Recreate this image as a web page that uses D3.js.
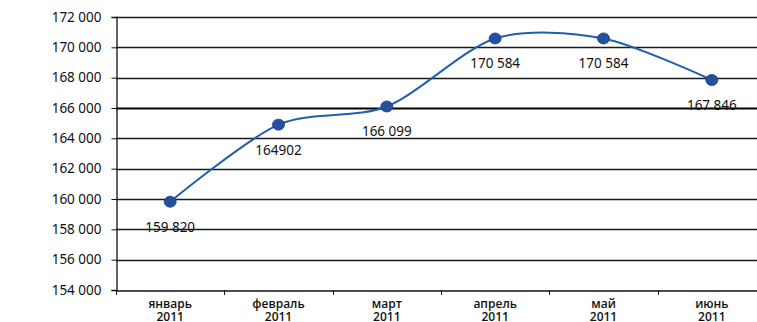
<!DOCTYPE html>
<html>
<head>
<meta charset="utf-8">
<script src="https://cdn.jsdelivr.net/npm/d3@7"></script>
<style>
  body { margin: 0; background: #fff; }
  svg { display: block; font-family: "Open Sans", "Noto Sans", sans-serif; }
</style>
</head>
<body>
<div id="chart"></div>
<script>
const months = ["январь", "февраль", "март", "апрель", "май", "июнь"];
const years = ["2011", "2011", "2011", "2011", "2011", "2011"];
const values = [159820, 164902, 166099, 170584, 170584, 167846];
const valueLabels = ["159 820", "164902", "166 099", "170 584", "170 584", "167 846"];
const yTicks = [154000, 156000, 158000, 160000, 162000, 164000, 166000, 168000, 170000, 172000];

const width = 757, height = 322;
const margin = { top: 17, right: -9, bottom: 32, left: 116 };

const svg = d3.select("#chart").append("svg")
  .attr("width", width)
  .attr("height", height);

const x = d3.scaleBand()
  .domain(months)
  .range([margin.left, width - margin.right]);

const y = d3.scaleLinear()
  .domain([154000, 172000])
  .range([height - margin.bottom, margin.top]);

const fmt = d => d3.format(",")(d).replace(/,/g, " ");

// grid lines
svg.append("g")
  .selectAll("line")
  .data(yTicks.slice(1))
  .join("line")
  .attr("x1", margin.left)
  .attr("x2", width)
  .attr("y1", d => Math.round(y(d)) + 0.5)
  .attr("y2", d => Math.round(y(d)) + 0.5)
  .attr("stroke", d => d === 166000 ? "#000" : "#1a1a1a")
  .attr("stroke-width", d => d === 166000 ? 2 : 1.3);

// y axis
const yAxis = svg.append("g")
  .attr("transform", `translate(${margin.left + 0.5},0)`)
  .call(d3.axisLeft(y).tickValues(yTicks).tickFormat(fmt).tickSize(5).tickPadding(10));
yAxis.select(".domain").attr("stroke", "#111").attr("stroke-width", 1.3);
yAxis.selectAll(".tick line").attr("stroke", "#111");
yAxis.selectAll("text")
  .attr("font-size", 13.5)
  .attr("fill", "#111")
  .attr("font-family", "'Noto Sans', sans-serif");

// x axis
const xAxis = svg.append("g")
  .attr("transform", `translate(0,${Math.round(y(154000)) + 0.5})`)
  .call(d3.axisBottom(x).tickSize(0).tickFormat(""));
xAxis.select(".domain").attr("stroke", "#111").attr("stroke-width", 1.3);

// category boundary ticks
const bounds = months.map(m => x(m)).concat([x(months[months.length - 1]) + x.bandwidth()]);
svg.append("g")
  .selectAll("line")
  .data(bounds)
  .join("line")
  .attr("x1", d => Math.round(d) + 0.5)
  .attr("x2", d => Math.round(d) + 0.5)
  .attr("y1", y(154000))
  .attr("y2", y(154000) + 5)
  .attr("stroke", "#111");

const cx = d => x(d) + x.bandwidth() / 2;

const catLabels = svg.append("g")
  .selectAll("text")
  .data(months)
  .join("text")
  .attr("x", cx)
  .attr("y", y(154000) + 18)
  .attr("text-anchor", "middle")
  .attr("font-size", 12)
  .attr("font-weight", 600)
  .attr("fill", "#111");
catLabels.append("tspan").attr("x", cx).text(d => d);
catLabels.append("tspan").attr("x", cx).attr("dy", 13).text((d, i) => years[i]);

// line
const pts = months.map((m, i) => [cx(m), y(values[i])]);
svg.append("path")
  .datum(pts)
  .attr("fill", "none")
  .attr("stroke", "#1f5fb0")
  .attr("stroke-width", 2)
  .attr("d", d3.line().curve(d3.curveCardinal.tension(0.15)));

// markers
svg.append("g")
  .selectAll("ellipse")
  .data(pts)
  .join("ellipse")
  .attr("cx", d => d[0])
  .attr("cy", d => d[1])
  .attr("rx", 6)
  .attr("ry", 5.5)
  .attr("fill", "#24509e")
  .attr("stroke", "#1a3a78")
  .attr("stroke-width", 0.8);

// value labels
svg.append("g")
  .selectAll("text")
  .data(valueLabels)
  .join("text")
  .attr("x", (d, i) => cx(months[i]))
  .attr("y", (d, i) => y(values[i]) + 30)
  .attr("text-anchor", "middle")
  .attr("font-size", 13.5)
  .attr("font-family", "'Noto Sans', sans-serif")
  .attr("fill", "#111")
  .text(d => d);
</script>
</body>
</html>
